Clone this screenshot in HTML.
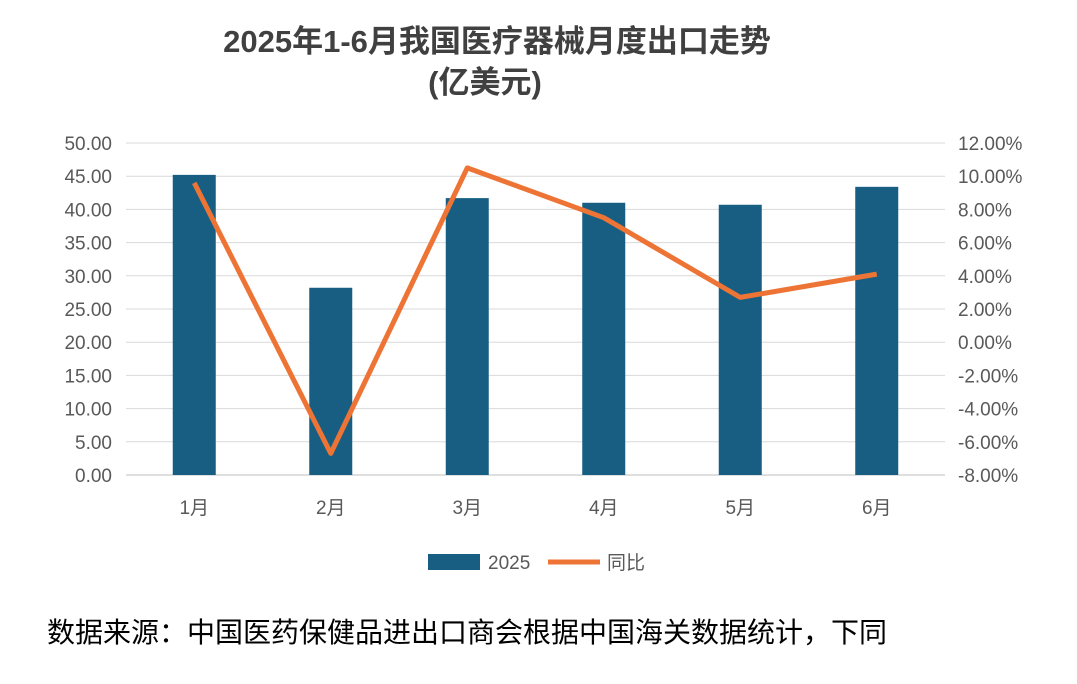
<!DOCTYPE html>
<html><head><meta charset="utf-8"><style>
body{margin:0;background:#fff;width:1077px;height:679px;overflow:hidden;font-family:"Liberation Sans","Noto Sans CJK SC",sans-serif;}
</style></head><body>
<svg width="1077" height="679" xmlns="http://www.w3.org/2000/svg">
<text x="497" y="52" text-anchor="middle" font-size="31" font-weight="bold" fill="#404040" font-family="Liberation Sans,Noto Sans CJK SC,sans-serif">2025年1-6月我国医疗器械月度出口走势</text>
<text x="485" y="93" text-anchor="middle" font-size="31" font-weight="bold" fill="#404040" font-family="Liberation Sans,Noto Sans CJK SC,sans-serif">(亿美元)</text>
<g id="grid"></g>
<g id="bars"></g>
<g id="line"></g>
<g id="axes"></g>
<rect x="428" y="554" width="52" height="16" fill="#175e82"/>
<text x="488" y="569" font-size="19" fill="#595959" font-family="Liberation Sans,sans-serif">2025</text>
<line x1="548" y1="562" x2="600" y2="562" stroke="#ed7434" stroke-width="5"/>
<text x="607" y="569" font-size="19" fill="#595959" font-family="Liberation Sans,Noto Sans CJK SC,sans-serif">同比</text>
<text x="47" y="642" font-size="28" fill="#000" font-family="Liberation Sans,Noto Sans CJK SC,sans-serif">数据来源：中国医药保健品进出口商会根据中国海关数据统计，下同</text>
</svg>
<script>
const categories=["1月","2月","3月","4月","5月","6月"];
const exportValues=[45.2,28.2,41.7,41.0,40.7,43.4];
const yoyValues=[9.6,-6.7,10.5,7.5,2.7,4.1];
const leftTicks=["0.00","5.00","10.00","15.00","20.00","25.00","30.00","35.00","40.00","45.00","50.00"];
const rightTicks=["-8.00%","-6.00%","-4.00%","-2.00%","0.00%","2.00%","4.00%","6.00%","8.00%","10.00%","12.00%"];
const NS="http://www.w3.org/2000/svg";
const X0=126,X1=945,Y0=475,Y1=143;
const yL=v=>Y0-(v-0)/50*(Y0-Y1);
const yR=v=>Y0-(v+8)/20*(Y0-Y1);
const step=(X1-X0)/categories.length;
const xC=i=>X0+step*(i+0.5);
function mk(tag,attrs,parent,txt){const e=document.createElementNS(NS,tag);for(const k in attrs)e.setAttribute(k,attrs[k]);if(txt!==undefined)e.textContent=txt;document.getElementById(parent).appendChild(e);return e;}
leftTicks.forEach((t,i)=>{const y=yL(parseFloat(t));
const g=mk('line',{x1:X0,x2:X1,y1:y,y2:y,stroke:i===0?'#bfbfbf':'#d9d9d9','stroke-width':1},'grid');


const l=mk('text',{x:112,y:y+7,'text-anchor':'end','font-size':19,fill:'#595959','font-family':'Liberation Sans,sans-serif'},'axes',t);

});
rightTicks.forEach(t=>{const y=yR(parseFloat(t));
const l=mk('text',{x:958,y:y+7,'font-size':19,fill:'#595959','font-family':'Liberation Sans,sans-serif'},'axes',t);

});
categories.forEach((c,i)=>{
const b=mk('rect',{x:xC(i)-21.5,y:yL(exportValues[i]),width:43,height:Y0-yL(exportValues[i]),fill:'#175e82'},'bars');


const l=mk('text',{x:xC(i),y:514,'text-anchor':'middle','font-size':19,fill:'#595959','font-family':'Liberation Sans,Noto Sans CJK SC,sans-serif'},'axes',c);

});
const pts=yoyValues.map((v,i)=>xC(i)+','+yR(v)).join(' ');
const pl=mk('polyline',{points:pts,fill:'none',stroke:'#ed7434','stroke-width':5,'stroke-linejoin':'round'},'line');


</script>
</body></html>
